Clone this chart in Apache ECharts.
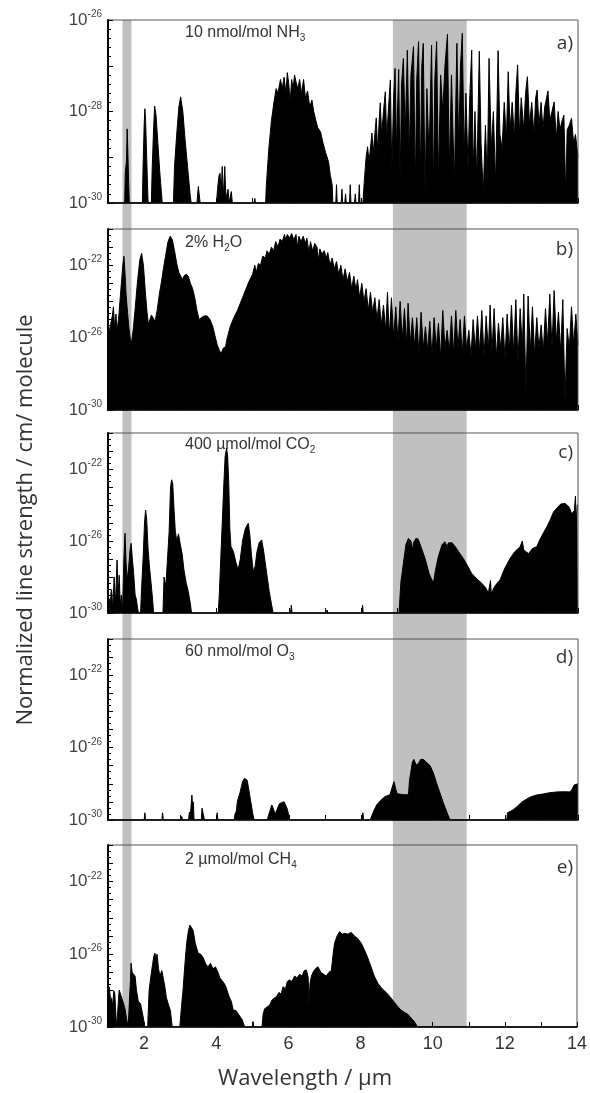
<!DOCTYPE html>
<html>
<head>
<meta charset="utf-8">
<script src="https://cdn.jsdelivr.net/npm/echarts@6/dist/echarts.min.js"></script>
<style>html,body{margin:0;padding:0;background:#fff;}</style>
</head>
<body>
<div id="main" style="width:590px;height:1093px;"></div>
<script type="text/javascript">
// [wavelength um, log10(line strength)]
var nh3 = [
  [1.0,-30],[1.46,-30],[1.48,-29.3],[1.51,-29.1],[1.53,-28.38],[1.55,-28.9],[1.57,-29.5],[1.59,-30],
  [1.95,-30],[1.97,-29.2],[2.0,-28.3],[2.02,-27.94],[2.04,-28.2],[2.07,-29],[2.1,-29.8],[2.11,-30],
  [2.2,-30],[2.22,-29.3],[2.26,-28.4],[2.29,-27.88],[2.33,-28.1],[2.38,-28.7],[2.43,-29.3],[2.48,-29.8],[2.5,-30],
  [2.81,-30],[2.84,-29.2],[2.9,-28.5],[2.96,-27.9],[3.01,-27.68],[3.07,-28.0],[3.13,-28.6],[3.2,-29.2],[3.27,-29.8],[3.3,-30],
  [3.46,-30],[3.48,-29.8],[3.5,-29.64],[3.52,-29.8],[3.55,-30],
  [4.0,-30],[4.03,-29.7],[4.07,-29.4],[4.1,-29.35],[4.13,-29.8],[4.16,-29.2],[4.19,-29.9],[4.23,-29.2],[4.26,-29.9],[4.32,-29.7],[4.35,-30],[4.41,-29.75],[4.44,-30],
  [5.04,-30],[5.06,-29.9],[5.08,-30],
  [5.36,-30],[5.38,-29.6],[5.45,-28.8],[5.52,-28.2],[5.59,-27.8],[5.65,-27.5],[5.7,-27.6],[5.77,-27.3],[5.82,-27.5],[5.87,-27.25],[5.92,-27.6],[5.96,-27.15],
  [6.0,-27.4],[6.04,-27.8],[6.08,-27.3],[6.12,-27.5],[6.16,-27.2],[6.2,-27.35],[6.25,-27.5],[6.3,-27.3],[6.35,-27.6],[6.41,-27.3],[6.46,-27.7],[6.52,-27.55],
  [6.58,-27.9],[6.64,-27.75],[6.69,-28.0],[6.75,-28.2],[6.8,-28.35],[6.88,-28.45],[6.95,-28.7],[7.02,-28.9],[7.1,-29.1],[7.15,-29.4],[7.2,-29.6],[7.22,-30],
  [7.3,-30],[7.32,-29.6],[7.34,-30],[7.45,-30],[7.47,-29.7],[7.49,-30],[7.55,-30],[7.57,-29.8],[7.59,-30],[7.68,-30],[7.7,-29.6],[7.72,-30],
  [7.82,-30],[7.84,-29.8],[7.86,-30],[7.93,-30],[7.95,-29.6],[7.97,-30],
  [8.05,-30],[8.1,-29.4],[8.14,-29.0],[8.18,-28.77],[8.22,-29.1],[8.26,-28.8],[8.3,-28.47],[8.34,-28.9],[8.38,-28.5],[8.42,-28.14],[8.46,-28.9],
  [8.5,-28.2],[8.53,-27.81],[8.57,-28.5],[8.62,-28.0],[8.67,-27.57],[8.71,-28.6],[8.76,-27.9],[8.81,-27.31],[8.85,-29.3],[8.9,-27.7],[8.94,-27.06],
  [8.98,-28.8],[9.04,-27.08],[9.08,-29.6],[9.12,-27.4],[9.17,-26.84],[9.22,-28.5],[9.28,-26.66],[9.33,-29.0],[9.38,-27.2],[9.45,-26.58],[9.5,-29.7],
  [9.54,-27.3],[9.59,-26.47],[9.64,-29.5],[9.68,-27.0],[9.72,-26.51],[9.77,-29.8],[9.82,-27.5],[9.88,-29.0],[9.95,-26.55],[10.0,-29.7],[10.04,-27.3],
  [10.09,-26.47],[10.14,-29.5],[10.2,-27.2],[10.26,-28.0],[10.32,-27.0],[10.39,-26.31],[10.44,-29.3],[10.5,-27.2],[10.58,-29.6],[10.65,-26.51],
  [10.7,-28.8],[10.75,-27.0],[10.8,-26.29],[10.85,-29.0],[10.9,-27.6],[10.96,-29.3],[11.0,-27.8],[11.06,-26.66],[11.1,-29.3],[11.15,-28.0],[11.2,-29.5],
  [11.27,-26.68],[11.32,-28.7],[11.38,-29.8],[11.44,-28.3],[11.49,-29.5],[11.54,-26.84],[11.6,-28.8],[11.66,-28.0],[11.72,-29.6],[11.79,-26.67],
  [11.84,-28.5],[11.9,-28.8],[11.96,-27.8],[12.02,-28.6],[12.07,-27.13],[12.12,-28.4],[12.18,-27.8],[12.24,-28.6],[12.28,-27.6],[12.33,-26.98],
  [12.38,-28.5],[12.43,-27.7],[12.5,-28.4],[12.55,-27.6],[12.6,-27.24],[12.66,-28.3],[12.72,-27.8],[12.78,-28.5],[12.83,-27.7],[12.87,-27.53],
  [12.92,-28.3],[12.98,-27.8],[13.03,-28.4],[13.08,-27.9],[13.17,-27.55],[13.22,-28.2],[13.28,-28.0],[13.34,-27.79],[13.4,-28.6],[13.45,-28.0],
  [13.5,-28.4],[13.56,-28.2],[13.61,-28.08],[13.66,-29.8],[13.7,-28.4],[13.76,-28.3],[13.82,-28.15],[13.88,-28.7],[13.93,-28.5],[13.97,-28.48],[14.0,-29.0]
];
var h2o = [
  [1.0,-26.0],[1.04,-25.6],[1.08,-25.7],[1.12,-24.8],[1.15,-24.3],[1.18,-25.4],[1.22,-24.7],[1.25,-25.6],[1.29,-25.0],[1.33,-24.0],[1.37,-23.0],
  [1.41,-22.0],[1.44,-21.5],[1.47,-22.4],[1.5,-23.6],[1.54,-24.6],[1.58,-25.5],[1.62,-26.1],[1.65,-26.3],[1.7,-25.5],[1.76,-24.2],[1.82,-22.8],
  [1.88,-21.7],[1.93,-21.35],[1.98,-22.0],[2.03,-23.4],[2.08,-24.6],[2.12,-25.3],[2.16,-25.0],[2.2,-24.75],[2.25,-24.8],[2.3,-25.1],[2.36,-24.5],
  [2.42,-23.6],[2.48,-22.9],[2.54,-22.1],[2.6,-21.4],[2.66,-20.7],[2.72,-20.4],[2.78,-20.6],[2.84,-21.2],[2.9,-21.9],[2.96,-22.4],[3.01,-22.5],
  [3.06,-22.8],[3.1,-22.6],[3.16,-22.5],[3.22,-22.6],[3.28,-23.0],[3.34,-23.3],[3.4,-23.8],[3.46,-24.5],[3.52,-25.0],[3.58,-24.9],[3.66,-24.8],
  [3.74,-24.8],[3.82,-25.0],[3.9,-25.4],[3.96,-25.9],[4.02,-26.4],[4.08,-26.7],[4.13,-26.9],[4.18,-26.6],[4.25,-26.5],[4.3,-26.0],[4.38,-25.4],
  [4.48,-24.9],[4.58,-24.5],[4.66,-24.1],[4.72,-23.8],[4.8,-23.4],[4.9,-22.9],[5.0,-22.5],[5.06,-22.0],[5.1,-22.4],[5.16,-21.9],[5.22,-22.0],
  [5.28,-21.5],[5.35,-21.6],[5.4,-21.2],[5.46,-21.4],[5.52,-21.0],[5.58,-21.2],[5.64,-20.7],[5.7,-21.0],[5.76,-20.55],[5.82,-20.7],[5.88,-20.3],
  [5.92,-20.6],[5.96,-20.3],[6.02,-20.5],[6.08,-20.25],[6.14,-20.6],[6.2,-20.3],[6.24,-21.0],[6.28,-20.4],[6.34,-20.7],[6.4,-20.4],[6.46,-20.8],
  [6.5,-20.5],[6.56,-21.3],[6.6,-20.7],[6.66,-21.2],[6.72,-20.8],[6.78,-21.0],[6.82,-21.7],[6.86,-21.1],[6.92,-21.4],[6.98,-21.2],[7.04,-21.6],
  [7.08,-21.3],[7.14,-22.0],[7.2,-21.6],[7.26,-22.2],[7.32,-21.8],[7.38,-22.5],[7.44,-22.0],[7.5,-22.8],[7.56,-22.2],[7.62,-22.9],[7.68,-22.4],
  [7.74,-23.3],[7.8,-22.6],[7.86,-23.4],[7.9,-22.8],[7.96,-23.8],[8.02,-23.0],[8.08,-24.0],[8.14,-23.3],[8.2,-24.5],[8.26,-23.5],[8.32,-24.6],
  [8.38,-23.8],[8.44,-25.0],[8.5,-23.9],[8.56,-25.3],[8.62,-24.2],[8.68,-25.6],[8.73,-23.5],[8.78,-25.9],[8.84,-23.8],[8.9,-26.0],[8.96,-24.3],
  [9.02,-26.2],[9.08,-24.0],[9.14,-26.1],[9.2,-24.4],[9.26,-26.4],[9.3,-24.1],[9.36,-26.3],[9.42,-24.9],[9.48,-26.5],[9.54,-24.9],[9.6,-26.9],
  [9.66,-24.6],[9.72,-26.6],[9.78,-25.4],[9.84,-26.7],[9.9,-25.1],[9.96,-27.0],[10.02,-24.9],[10.08,-26.6],[10.14,-25.2],[10.2,-27.1],[10.26,-24.5],
  [10.32,-26.6],[10.38,-25.6],[10.44,-26.8],[10.5,-24.8],[10.56,-26.9],[10.62,-24.5],[10.68,-26.6],[10.74,-25.0],[10.8,-26.9],[10.86,-24.8],
  [10.92,-26.7],[10.98,-25.6],[11.04,-27.0],[11.1,-25.0],[11.16,-26.7],[11.22,-24.8],[11.28,-26.8],[11.34,-24.5],[11.4,-27.1],[11.46,-24.8],
  [11.52,-26.7],[11.57,-24.2],[11.62,-26.8],[11.68,-24.4],[11.74,-27.1],[11.8,-25.2],[11.86,-26.6],[11.92,-24.9],[11.98,-27.2],[12.04,-24.7],
  [12.1,-26.7],[12.16,-24.2],[12.22,-26.9],[12.28,-23.9],[12.34,-27.3],[12.4,-24.4],[12.46,-26.6],[12.5,-23.6],[12.56,-29.0],[12.62,-23.7],
  [12.68,-26.8],[12.74,-24.3],[12.8,-27.0],[12.86,-24.9],[12.92,-26.6],[12.98,-25.3],[13.04,-26.8],[13.1,-24.4],[13.16,-26.3],[13.22,-23.6],
  [13.28,-26.6],[13.34,-23.4],[13.4,-26.2],[13.46,-24.6],[13.52,-26.8],[13.58,-23.9],[13.64,-29.5],[13.7,-25.5],[13.76,-26.6],[13.82,-24.3],
  [13.88,-26.4],[13.94,-24.7],[14.0,-26.4]
];
var co2 = [
  [1.0,-30],[1.03,-29.2],[1.06,-30],[1.08,-28.9],[1.1,-28.7],[1.13,-29.8],[1.17,-28.0],[1.21,-29.5],[1.25,-27.06],[1.28,-29.0],[1.31,-27.9],
  [1.34,-29.6],[1.37,-29.0],[1.4,-30],[1.44,-27.0],[1.47,-25.57],[1.5,-27.2],[1.53,-28.2],[1.57,-27.5],[1.61,-26.5],[1.64,-26.13],[1.67,-26.9],
  [1.71,-27.8],[1.75,-29.0],[1.78,-29.2],[1.81,-29.6],[1.84,-30],
  [1.9,-30],[1.93,-28.6],[1.97,-27.0],[2.01,-25.0],[2.04,-24.28],[2.07,-24.8],[2.11,-26.5],[2.15,-27.5],[2.19,-28.3],[2.24,-29.4],[2.26,-30],
  [2.52,-30],[2.55,-28.0],[2.6,-28.5],[2.64,-27.2],[2.69,-25.5],[2.73,-23.0],[2.76,-22.6],[2.79,-22.8],[2.82,-24.0],[2.86,-25.4],[2.9,-26.0],
  [2.95,-25.6],[3.0,-26.2],[3.05,-26.7],[3.1,-27.6],[3.16,-28.3],[3.22,-28.8],[3.28,-29.5],[3.31,-30],
  [4.05,-30],[4.08,-28.9],[4.12,-26.9],[4.16,-25.0],[4.2,-23.0],[4.24,-21.3],[4.28,-20.85],[4.31,-21.3],[4.34,-22.8],[4.37,-25.3],[4.4,-26.3],
  [4.47,-26.6],[4.54,-27.2],[4.6,-27.6],[4.66,-27.0],[4.72,-26.0],[4.8,-25.3],[4.88,-25.02],[4.92,-25.6],[4.97,-26.8],[5.02,-27.7],[5.07,-27.4],
  [5.12,-26.6],[5.18,-26.1],[5.25,-25.94],[5.3,-26.5],[5.39,-27.8],[5.46,-28.8],[5.53,-29.6],[5.57,-30],
  [6.05,-30],[6.07,-29.56],[6.09,-30],[7.04,-30],[7.06,-29.83],[7.08,-30],[8.02,-30],[8.04,-29.56],[8.06,-30],
  [9.05,-30],[9.1,-28.3],[9.17,-27.24],[9.24,-26.2],[9.31,-25.85],[9.38,-26.0],[9.42,-26.5],[9.45,-26.1],[9.52,-25.85],[9.58,-25.9],[9.67,-26.4],
  [9.77,-26.97],[9.88,-27.8],[10.0,-28.35],[10.06,-27.6],[10.14,-26.85],[10.24,-26.2],[10.32,-26.04],[10.38,-26.3],[10.42,-26.1],[10.52,-26.1],
  [10.6,-26.3],[10.7,-26.6],[10.83,-26.97],[10.95,-27.4],[11.06,-27.8],[11.2,-28.1],[11.34,-28.35],[11.45,-28.6],[11.52,-28.9],[11.58,-28.2],
  [11.6,-28.9],[11.7,-28.5],[11.84,-28.17],[11.98,-27.5],[12.12,-26.97],[12.25,-26.6],[12.4,-26.32],[12.46,-26.0],[12.5,-26.5],[12.63,-26.7],
  [12.75,-26.4],[12.86,-26.32],[12.95,-25.9],[13.04,-25.57],[13.14,-25.2],[13.23,-24.83],[13.32,-24.4],[13.41,-24.18],[13.52,-23.95],[13.64,-23.91],
  [13.75,-24.1],[13.83,-24.5],[13.9,-24.3],[13.93,-23.5],[13.95,-25.0],[13.98,-24.0],[14.0,-24.0]
];
var o3 = [
  [1.0,-30],[2.0,-30],[2.02,-29.6],[2.04,-30],[2.49,-30],[2.51,-29.6],[2.53,-30],[3.02,-30],[3.04,-29.8],[3.06,-30],
  [3.23,-30],[3.25,-29.56],[3.28,-29.7],[3.32,-28.62],[3.34,-29.2],[3.36,-29.0],[3.38,-30],[3.58,-30],[3.6,-29.35],[3.65,-29.35],[3.67,-30],
  [4.0,-30],[4.02,-29.6],[4.04,-30],[4.49,-30],[4.51,-29.7],[4.55,-29.5],[4.58,-28.95],[4.65,-28.5],[4.72,-27.9],[4.77,-27.7],[4.85,-27.8],
  [4.9,-28.4],[4.95,-29.0],[5.0,-29.6],[5.04,-30],[5.41,-30],[5.43,-29.8],[5.48,-29.5],[5.53,-29.17],[5.58,-29.4],[5.62,-29.7],[5.68,-29.4],
  [5.74,-29.1],[5.8,-29.05],[5.87,-28.99],[5.92,-29.2],[5.96,-29.4],[6.03,-30],
  [7.01,-30],[7.03,-29.9],[7.05,-30],[8.03,-30],[8.05,-29.6],[8.07,-30],
  [8.25,-30],[8.35,-29.5],[8.43,-29.17],[8.55,-28.9],[8.66,-28.71],[8.8,-28.6],[8.86,-28.2],[8.91,-27.88],[8.96,-28.3],[9.0,-28.55],[9.17,-28.6],
  [9.31,-28.6],[9.34,-27.8],[9.37,-27.42],[9.42,-26.8],[9.46,-26.65],[9.52,-26.95],[9.58,-26.9],[9.65,-26.65],[9.72,-26.65],[9.8,-26.8],
  [9.91,-27.0],[10.0,-27.4],[10.09,-27.97],[10.18,-28.5],[10.28,-29.08],[10.38,-29.6],[10.46,-30],
  [10.99,-30],[11.01,-29.9],[11.03,-30],
  [12.03,-30],[12.05,-29.6],[12.1,-29.7],[12.2,-29.45],[12.31,-29.27],[12.45,-29.0],[12.67,-28.74],[12.85,-28.62],[13.04,-28.56],[13.2,-28.5],
  [13.41,-28.45],[13.6,-28.44],[13.78,-28.45],[13.84,-28.3],[13.89,-28.07],[14.0,-28.0]
];
var ch4 = [
  [1.0,-30],[1.02,-28.6],[1.04,-27.8],[1.07,-28.6],[1.1,-28.4],[1.13,-28.9],[1.16,-28.0],[1.19,-28.2],[1.22,-29.4],[1.24,-30],
  [1.27,-30],[1.29,-28.5],[1.31,-27.97],[1.35,-28.2],[1.38,-28.4],[1.43,-28.7],[1.47,-29.0],[1.52,-29.6],[1.56,-30],
  [1.6,-30],[1.62,-27.5],[1.64,-26.5],[1.67,-27.0],[1.71,-26.9],[1.75,-27.2],[1.79,-28.0],[1.84,-28.6],[1.9,-28.7],[1.93,-28.8],[1.98,-29.5],[2.02,-30],
  [2.1,-30],[2.14,-27.97],[2.19,-27.2],[2.24,-26.5],[2.27,-26.1],[2.3,-25.95],[2.33,-26.2],[2.36,-26.0],[2.4,-26.8],[2.44,-27.2],[2.49,-26.9],
  [2.53,-27.0],[2.57,-27.7],[2.62,-28.4],[2.68,-28.8],[2.73,-29.1],[2.78,-30],
  [2.99,-30],[3.04,-28.8],[3.08,-27.97],[3.13,-26.6],[3.18,-25.4],[3.23,-24.7],[3.27,-24.4],[3.31,-24.5],[3.36,-24.7],[3.42,-25.4],[3.5,-25.95],
  [3.57,-26.0],[3.64,-26.2],[3.7,-26.5],[3.77,-26.7],[3.84,-26.5],[3.91,-26.8],[3.98,-26.7],[4.05,-27.0],[4.1,-27.3],[4.15,-27.2],[4.22,-27.6],
  [4.28,-27.85],[4.35,-28.3],[4.42,-28.6],[4.47,-29.07],[4.55,-29.1],[4.65,-29.4],[4.72,-29.6],[4.79,-30],
  [5.0,-30],[5.02,-29.7],[5.04,-30],
  [5.27,-30],[5.3,-29.3],[5.34,-29.0],[5.41,-28.9],[5.48,-28.8],[5.55,-28.5],[5.6,-28.6],[5.67,-28.33],[5.74,-28.1],[5.8,-28.2],[5.85,-27.79],
  [5.92,-27.9],[5.97,-27.5],[6.03,-27.42],[6.1,-27.5],[6.17,-27.2],[6.24,-27.3],[6.31,-27.1],[6.38,-27.2],[6.44,-26.9],[6.5,-26.87],[6.55,-27.3],
  [6.57,-28.8],[6.6,-27.6],[6.64,-27.2],[6.68,-27.0],[6.75,-26.8],[6.82,-26.69],[6.9,-27.0],[6.98,-27.1],[7.05,-27.2],[7.12,-27.0],[7.19,-26.9],
  [7.24,-26.0],[7.28,-25.4],[7.35,-25.0],[7.42,-24.76],[7.49,-24.9],[7.56,-24.85],[7.65,-24.9],[7.74,-24.8],[7.83,-25.0],[7.92,-25.13],
  [8.02,-25.4],[8.11,-25.77],[8.2,-26.2],[8.29,-26.69],[8.38,-27.2],[8.48,-27.6],[8.6,-27.9],[8.71,-28.1],[8.8,-28.3],[8.89,-28.52],[9.0,-28.8],
  [9.12,-29.07],[9.22,-29.2],[9.31,-29.3],[9.4,-29.5],[9.49,-29.7],[9.58,-30],[14.0,-30]
];
var spectra = [nh3, h2o, co2, o3, ch4];
var species = ['10 nmol/mol NH{sub|3}', '2% H{sub|2}O', '400 \u00b5mol/mol CO{sub|2}', '60 nmol/mol O{sub|3}', '2 \u00b5mol/mol CH{sub|4}'];
var tags = ['a)', 'b)', 'c)', 'd)', 'e)'];
var yMax = [-26, -20, -20, -20, -20];
var yLabels = [[-30, -28, -26], [-30, -26, -22], [-30, -26, -22], [-30, -26, -22], [-30, -26, -22]];
var xLabels = [2, 4, 6, 8, 10, 12, 14];
var bands = [[1.4, 1.65], [8.88, 10.92]];

// panel boxes in pixels
var panelTop = [20, 229, 433, 639, 845];
var panelHeight = [183, 181, 180, 181, 182];
var tagY = [44, 250, 453, 658, 868];
var nameY = [33, 243, 445, 652, 860];

var myChart = echarts.init(document.getElementById('main'));
var grids = [], xAxes = [], yAxes = [], series = [], graphics = [];

spectra.forEach(function (data, i) {
    grids.push({left: 108, right: 12, top: panelTop[i], height: panelHeight[i],
        show: true, borderColor: '#555', borderWidth: 1, z: 4});
    xAxes.push({
        type: 'value', gridIndex: i, min: 1, max: 14, interval: 1, z: 5,
        axisLine: {lineStyle: {color: '#000', width: 1.5}},
        axisTick: {inside: true, length: 5, lineStyle: {color: '#000'}},
        splitLine: {show: false},
        axisLabel: {
            show: i === 4, margin: 8, color: '#333', fontSize: 18, fontFamily: 'Liberation Sans',
            formatter: function (v) { return xLabels.indexOf(v) >= 0 ? String(v) : ''; }
        }
    });
    yAxes.push({
        type: 'value', gridIndex: i, min: -30, max: yMax[i], interval: 1, z: 5,
        axisLine: {show: true, lineStyle: {color: '#000', width: 2}},
        axisTick: {inside: true, length: 5, lineStyle: {color: '#000'}},
        minorTick: {show: true, splitNumber: i === 0 ? 5 : 3, length: 3, lineStyle: {color: '#000'}},
        splitLine: {show: false},
        axisLabel: {
            margin: 6, color: '#444', fontSize: 17, fontFamily: 'Liberation Sans',
            formatter: function (v) {
                return yLabels[i].indexOf(v) >= 0 ? '{b|10}{s|' + v + '}' : '';
            },
            rich: {
                b: {fontSize: 17, color: '#444', fontFamily: 'Liberation Sans'},
                s: {fontSize: 10, color: '#444', fontFamily: 'Liberation Sans', padding: [0, 0, 11, 0]}
            }
        }
    });
    series.push({
        type: 'line', xAxisIndex: i, yAxisIndex: i, data: data, z: 3,
        showSymbol: false, animation: false,
        lineStyle: {color: '#000', width: 1},
        areaStyle: {color: '#000', opacity: 1, origin: 'start'}
    });
    graphics.push({
        type: 'text', x: 185, y: nameY[i],
        style: {
            text: species[i], fill: '#333', font: '16px "Liberation Sans"', verticalAlign: 'middle',
            rich: {sub: {fontSize: 10, fill: '#333', padding: [10, 0, 0, 0]}}
        }
    });
    graphics.push({
        type: 'text', x: 573, y: tagY[i],
        style: {text: tags[i], fill: '#333', font: '19px "Open Sans"', align: 'right', verticalAlign: 'middle'}
    });
});

// grey bands run through all five panels
grids.push({left: 108, right: 12, top: 20, height: 1007});
xAxes.push({type: 'value', gridIndex: 5, min: 1, max: 14, show: false});
yAxes.push({type: 'value', gridIndex: 5, min: 0, max: 1, show: false});
series.push({
    type: 'line', xAxisIndex: 5, yAxisIndex: 5, data: [], z: 1, silent: true,
    markArea: {
        silent: true, itemStyle: {color: '#c0c0c0'},
        data: bands.map(function (b) { return [{xAxis: b[0]}, {xAxis: b[1]}]; })
    }
});

graphics.push({
    type: 'text', x: 26, y: 520, rotation: Math.PI / 2,
    style: {text: 'Normalized line strength / cm/ molecule', fill: '#333', font: '22px "Open Sans"',
        align: 'center', verticalAlign: 'middle'}
});
graphics.push({
    type: 'text', x: 305, y: 1079,
    style: {text: 'Wavelength / \u00b5m', fill: '#333', font: '22px "Open Sans"', align: 'center', verticalAlign: 'middle'}
});

var option = {
    backgroundColor: '#fff',
    animation: false,
    grid: grids,
    xAxis: xAxes,
    yAxis: yAxes,
    series: series,
    graphic: graphics
};
myChart.setOption(option);
</script>
</body>
</html>
